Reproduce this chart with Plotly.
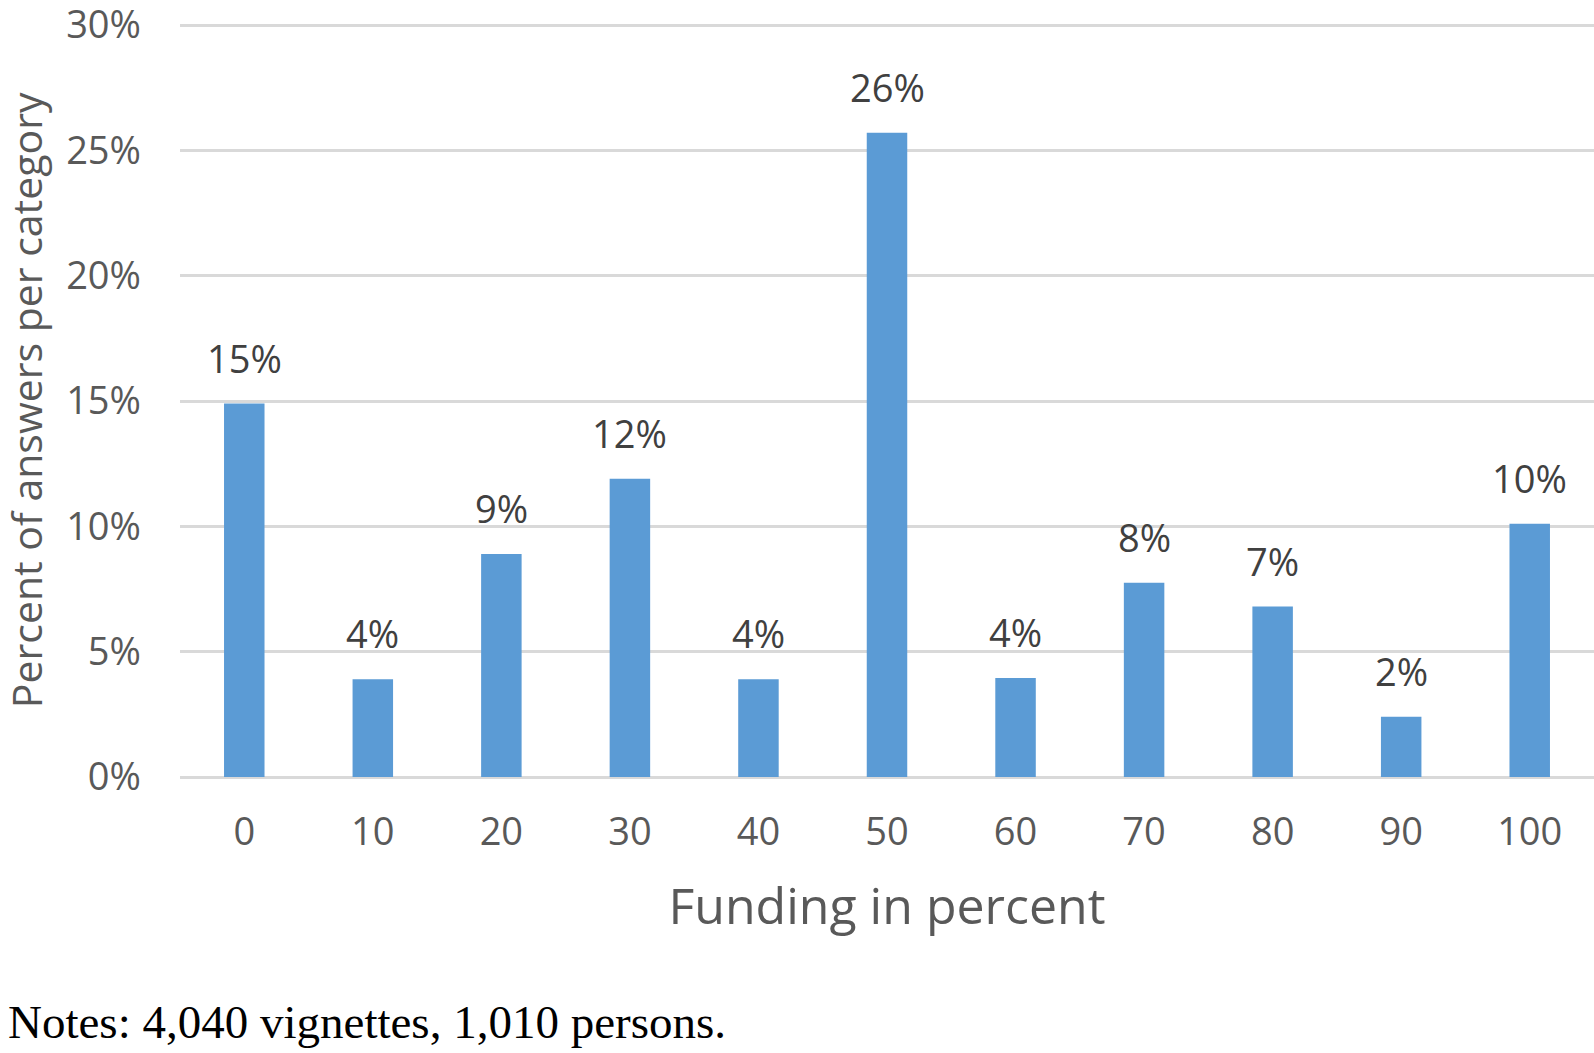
import plotly.graph_objects as go

categories = [0, 10, 20, 30, 40, 50, 60, 70, 80, 90, 100]
category_labels = [str(c) for c in categories]
shares = [14.9, 3.9, 8.9, 11.9, 3.9, 25.7, 3.95, 7.75, 6.8, 2.4, 10.1]
y_ticks = [0, 5, 10, 15, 20, 25, 30]
y_tick_labels = [f"{v}%" for v in y_ticks]
bar_labels = [f"{round(v)}%" for v in shares]

W, H = 1594, 1053
L, R, T, B = 180, 0, 19.6, 276
pw = W - L - R
ph = H - T - B

fig = go.Figure()
fig.add_trace(go.Bar(
    x=categories, y=shares,
    marker=dict(color="#5B9BD5", line=dict(width=0)),
    hoverinfo="skip",
))

for c, v, t in zip(categories, shares, bar_labels):
    fig.add_annotation(x=c, y=v, text=t, showarrow=False, yanchor="middle",
                       yshift=46, font=dict(family="Open Sans", size=38, color="#404040"))

fig.add_annotation(xref="paper", yref="paper", x=(6 - L) / pw, y=(T + ph - 1022) / ph,
                   xanchor="left", yanchor="middle", showarrow=False,
                   text="Notes: 4,040 vignettes, 1,010 persons.",
                   font=dict(family="Liberation Serif", size=47, color="#000000"))

# y-axis title placed as rotated text
fig.add_annotation(xref="paper", yref="paper", x=(26 - L) / pw, y=(T + ph - 400) / ph,
                   xanchor="center", yanchor="middle", showarrow=False, textangle=-90,
                   text="Percent of answers per category",
                   font=dict(family="Open Sans", size=41, color="#595959"))

fig.update_layout(
    width=W, height=H,
    margin=dict(l=L, r=R, t=T, b=B, autoexpand=False),
    paper_bgcolor="white", plot_bgcolor="white",
    bargap=0.685,
    showlegend=False,
    font=dict(family="Open Sans", color="#595959"),
)
fig.update_xaxes(
    range=[-5, 105], tickvals=categories, ticktext=category_labels,
    showgrid=False, showline=False, zeroline=False, ticks="",
    tickfont=dict(size=38, color="#595959"),
    ticklabelstandoff=29,
    title=dict(text="Funding in percent", font=dict(size=50, color="#595959"), standoff=33),
)
fig.update_yaxes(
    range=[0, 30.2], tickvals=y_ticks, ticktext=y_tick_labels,
    showgrid=True, gridcolor="#D9D9D9", gridwidth=3,
    zeroline=True, zerolinecolor="#D9D9D9", zerolinewidth=3,
    showline=False, ticks="",
    tickfont=dict(size=38, color="#595959"),
    ticklabelstandoff=38, ticklabeloverflow="allow",
)

fig.write_html("out.html", config={"displayModeBar": False},
               post_script="document.body.style.margin='0';")
